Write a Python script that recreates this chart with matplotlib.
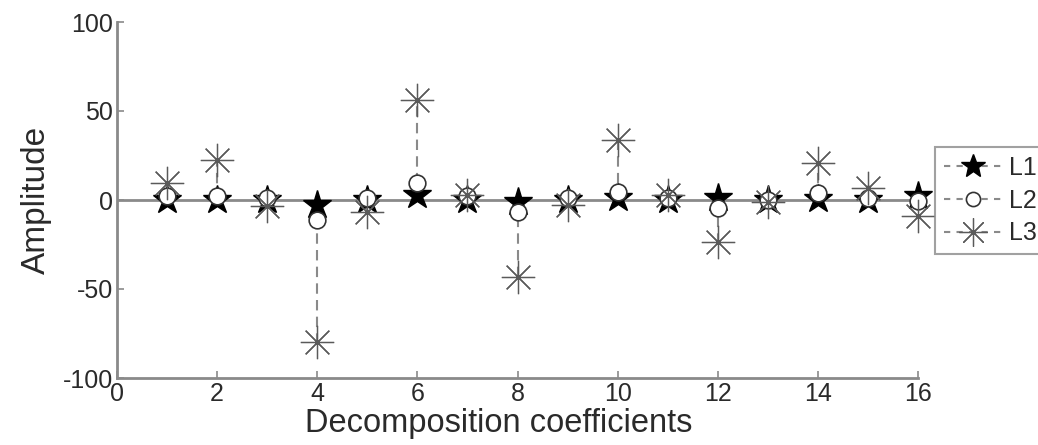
import matplotlib
matplotlib.use("Agg")
import matplotlib.pyplot as plt
import numpy as np
from matplotlib.lines import Line2D

plt.rcParams['font.family'] = ['Liberation Sans', 'DejaVu Sans']
plt.rcParams['axes.unicode_minus'] = False

coeffs = list(range(1, 17))
L1 = [0, 0, 0, -3, 0, 3, 0, -1, 0, 1, 0, 1, 0, 0.5, 0, 2]
L2 = [2, 2, 1, -11, 1, 9.5, 2, -6.5, 1, 4.7, 1, -4.5, 0, 4, 1, -0.5]
L3 = [9.5, 22.5, -3.5, -80, -6.5, 56, 3, -43, -3, 33.5, 3, -23.5, -1, 21, 6.5, -9]
labels = ['L1', 'L2', 'L3']
xticks = [0, 2, 4, 6, 8, 10, 12, 14, 16]
yticks = [-100, -50, 0, 50, 100]

gray = '#8a8a8a'
txt = '#2a2a2a'

fig = plt.figure(figsize=(10.38, 4.45), dpi=100)
ax = fig.add_axes([117/1038, 67/445, (918-117)/1038, (378-22)/445])

ax.axhline(0, color=gray, lw=2, zorder=1)

styles = [
    dict(marker='*', ms=21, mfc='black', mec='black', mew=1.0),
    dict(marker='o', ms=12, mfc='white', mec='#333333', mew=1.2),
    dict(marker=(8, 2, 0), ms=24, mfc='none', mec='#5a5a5a', mew=0.9),
]
series = [L1, L2, L3]
for i, (vals, st) in enumerate(zip(series, styles)):
    ml, sl, bl = ax.stem(coeffs, vals, basefmt=' ')
    sl.set_linestyle((0, (5, 3)))
    sl.set_color(gray)
    sl.set_linewidth(1.5)
    sl.set_zorder(2 + i)
    ml.set_linestyle('none')
    ml.set_marker(st['marker'])
    ml.set_markersize(st['ms'])
    ml.set_markerfacecolor(st['mfc'])
    ml.set_markeredgecolor(st['mec'])
    ml.set_markeredgewidth(st['mew'])
    ml.set_zorder(5 + i)
    ml.set_clip_on(False)

ax.set_xlim(0, 16)
ax.set_ylim(-100, 100)
ax.set_xticks(xticks)
ax.set_yticks(yticks)
for s in ['top', 'right']:
    ax.spines[s].set_visible(False)
for s in ['left', 'bottom']:
    ax.spines[s].set_color(gray)
    ax.spines[s].set_linewidth(2)
ax.tick_params(direction='in', length=5, width=1.2, color=gray,
               labelsize=18, labelcolor=txt, pad=3)
ax.set_xlabel('Decomposition coefficients', fontsize=23.5, color=txt, labelpad=1)
ax.xaxis.set_label_coords(0.477, -0.085)
ax.xaxis.label.set_va('top')
ax.set_ylabel('Amplitude', fontsize=24, color=txt, labelpad=8)

handles = [Line2D([0], [0], linestyle=(0, (3, 3)), color=gray, lw=1.5,
                  marker=st['marker'], ms=st['ms'] * 0.85, mfc=st['mfc'],
                  mec=st['mec'], mew=st['mew']) for st in styles]
leg = fig.legend(handles, labels, loc='upper left',
                 bbox_to_anchor=(935/1038, 1 - 147/445), fontsize=18,
                 handlelength=2.3, handletextpad=0.3, borderpad=0.35,
                 labelspacing=0.35, frameon=True, fancybox=False,
                 borderaxespad=0, numpoints=1)
leg.get_frame().set_edgecolor(gray)
leg.get_frame().set_linewidth(1.5)
for t in leg.get_texts():
    t.set_color(txt)

fig.savefig('out.png', dpi=100)
